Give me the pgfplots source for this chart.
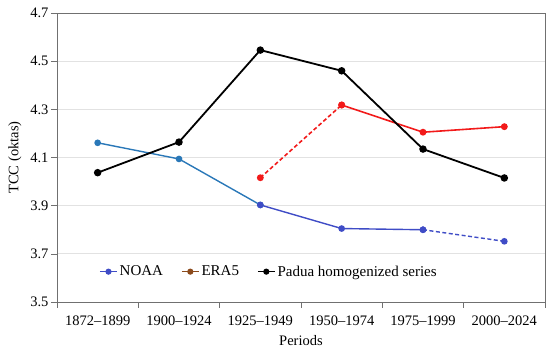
\documentclass[border=0pt]{standalone}
\usepackage{fontspec}
\setmainfont{Liberation Serif}
\usepackage{pgfplots}
\pgfplotsset{compat=1.18}
\definecolor{noaaA}{HTML}{2A78B8}
\definecolor{noaaB}{HTML}{3F4CC6}
\definecolor{eraR}{HTML}{F21A1A}
\definecolor{eraL}{HTML}{8B4A1C}
\definecolor{gridc}{HTML}{E2E2E2}
\definecolor{axc}{HTML}{707070}
\begin{document}
\begin{tikzpicture}
\useasboundingbox (-57pt,-51pt) rectangle (493pt,302pt);
\begin{axis}[at={(0,0)}, anchor=south west, scale only axis,
  width=488pt, height=289pt,
  xmin=-0.5, xmax=5.5, ymin=3.5, ymax=4.7,
  xtick={0,1,2,3,4,5},
  xticklabels={1872–1899,1900–1924,1925–1949,1950–1974,1975–1999,2000–2024},
  minor xtick={-0.5,0.5,1.5,2.5,3.5,4.5,5.5},
  major x tick style={draw=none},
  minor x tick style={draw=axc, line width=0.6pt},
  minor tick length=6pt,
  major tick length=6pt,
  ytick={3.5,3.7,3.9,4.1,4.3,4.5,4.7},
  y tick style={draw=axc, line width=0.6pt},
  tick align=outside, tick pos=left,
  yticklabel style={/pgf/number format/fixed, /pgf/number format/precision=1, /pgf/number format/fixed zerofill, xshift=1pt},
  xticklabel style={yshift=-4pt},
  /pgf/number format/assume math mode=true,
  ymajorgrids, grid style={gridc, line width=0.8pt},
  axis line style={draw=axc, line width=0.7pt},
  tick label style={font=\fontsize{14.5}{16}\selectfont},
  label style={font=\fontsize{14.5}{16}\selectfont},
  xlabel={Periods}, ylabel={TCC (oktas)},
  xlabel style={yshift=-3pt},
  ylabel style={yshift=2pt},
  legend style={at={(0.08,0.105)}, anchor=west, draw=none, fill=none,
    font=\fontsize{15}{16}\selectfont, legend columns=3,
    /tikz/every even column/.append style={column sep=16pt}},
  legend cell align=left,
  legend image code/.code={\draw[#1,mark=none] (0pt,0pt)--(17pt,0pt); \draw[#1,only marks] plot coordinates {(8.5pt,0pt)};},
]
% legend images
\addlegendimage{noaaB, line width=1.5pt, mark=*, mark size=2.3pt}
\addlegendentry{NOAA}
\addlegendimage{eraL, line width=1.5pt, mark=*, mark size=2.3pt}
\addlegendentry{ERA5}
\addlegendimage{black, line width=1.5pt, mark=*, mark size=2.3pt}
\addlegendentry{Padua homogenized series}
% NOAA
\addplot[forget plot, noaaA, line width=1.4pt, mark=*, mark size=2.6pt] coordinates {(0,4.161) (1,4.094) (2,3.903)};
\addplot[forget plot, noaaB, line width=1.4pt, mark=*, mark size=2.6pt] coordinates {(2,3.903) (3,3.805) (4,3.800)};
\addplot[forget plot, noaaB, line width=1.4pt, dash pattern=on 4pt off 2.5pt, mark=*, mark size=2.6pt, mark options={solid}] coordinates {(4,3.800) (5,3.752)};
% ERA5
\addplot[forget plot, eraR, line width=1.6pt, dash pattern=on 4pt off 2.5pt, mark=*, mark size=2.6pt, mark options={solid}] coordinates {(2,4.016) (3,4.318)};
\addplot[forget plot, eraR, line width=1.6pt, mark=*, mark size=2.6pt] coordinates {(3,4.318) (4,4.205) (5,4.228)};
% Padua
\addplot[forget plot, black, line width=1.8pt, mark=*, mark size=2.8pt] coordinates {(0,4.037) (1,4.164) (2,4.546) (3,4.460) (4,4.135) (5,4.015)};
\end{axis}
\end{tikzpicture}
\end{document}
